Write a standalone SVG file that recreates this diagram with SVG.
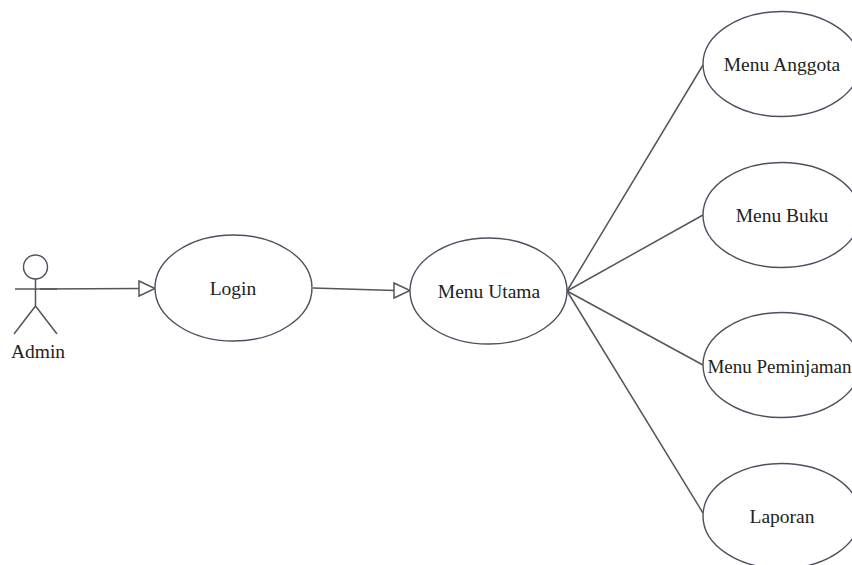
<svg xmlns="http://www.w3.org/2000/svg" width="852" height="565" viewBox="0 0 852 565">
<style>
.n{fill:#fff;stroke:#4f4f62;stroke-width:1.4}
.l{fill:none;stroke:#55555a;stroke-width:1.5}
.a{fill:#fff;stroke:#55555a;stroke-width:1.5}
text{font-family:"Liberation Serif","Times New Roman",serif;font-size:19.500px;fill:#222;text-anchor:middle}
</style>
<rect width="852" height="565" fill="#fff"/>
<g id="connectors">
<path class="l" d="M40 289L140 288.500"/>
<path class="a" d="M139 281L155 288.500L139 296Z"/>
<path class="l" d="M313 288L395 290.500"/>
<path class="a" d="M394 283L410 290.500L394 298Z"/>
<path class="l" d="M567 291L703 65"/>
<path class="l" d="M567 291L703 215"/>
<path class="l" d="M567 291L703 365"/>
<path class="l" d="M567 291L703 513"/>
</g>
<g id="actor-admin">
<circle class="n" cx="35.500" cy="267" r="12"/>
<path class="l" d="M35.500 279V306M15 289H57M35.500 306L14 334M35.500 306L57 334"/>
<text x="38" y="358">Admin</text>
</g>
<g id="login"><ellipse class="n" cx="233.500" cy="288" rx="78.500" ry="53"/><text x="233" y="295">Login</text></g>
<g id="menu-utama"><ellipse class="n" cx="488.500" cy="291" rx="78.500" ry="53"/><text x="489" y="298">Menu Utama</text></g>
<g id="menu-anggota"><ellipse class="n" cx="781.500" cy="64" rx="78.500" ry="52.500"/><text x="782" y="71">Menu Anggota</text></g>
<g id="menu-buku"><ellipse class="n" cx="781.500" cy="215" rx="78.500" ry="52.500"/><text x="782" y="222">Menu Buku</text></g>
<g id="menu-peminjaman"><ellipse class="n" cx="781.500" cy="365" rx="78.500" ry="52.500"/><text x="779.500" y="373" style="font-size:19px">Menu Peminjaman</text></g>
<g id="laporan"><ellipse class="n" cx="781.500" cy="516" rx="78.500" ry="52.500"/><text x="782" y="523">Laporan</text></g>
</svg>
